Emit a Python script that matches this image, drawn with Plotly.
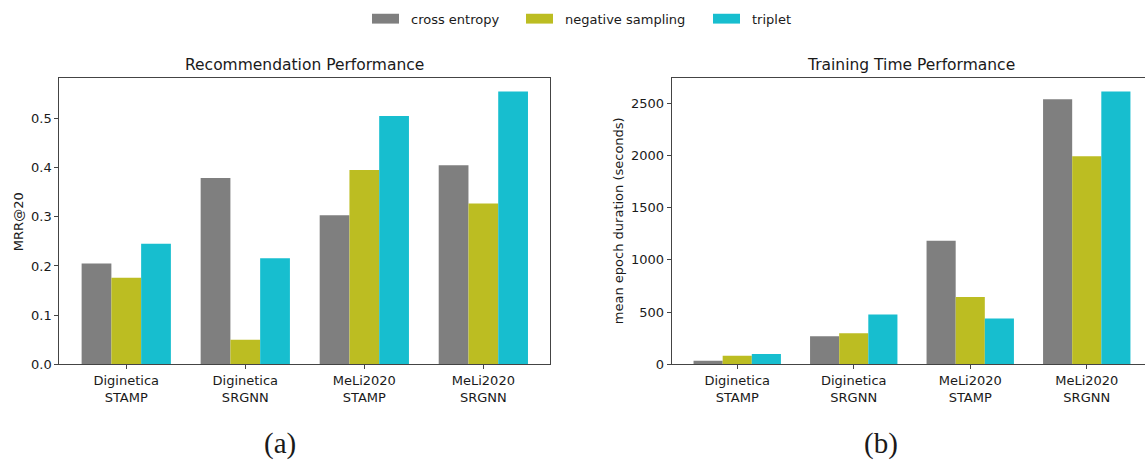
import plotly.graph_objects as go

W, H = 1145, 467

# ---- data ----
categories = ["Diginetica<br>STAMP", "Diginetica<br>SRGNN", "MeLi2020<br>STAMP", "MeLi2020<br>SRGNN"]
series_names = ["cross entropy", "negative sampling", "triplet"]

mrr_cross_entropy = [0.205, 0.379, 0.303, 0.405]
mrr_negative_sampling = [0.176, 0.050, 0.395, 0.327]
mrr_triplet = [0.245, 0.216, 0.505, 0.555]

time_cross_entropy = [35, 270, 1183, 2538]
time_negative_sampling = [82, 298, 646, 1992]
time_triplet = [100, 477, 439, 2613]

colors = ["#7f7f7f", "#bcbd22", "#17becf"]
FONT = "DejaVu Sans"
TXT = "#1a1a1a"
SPINE = "#444444"


def px_x(x):
    return x / W


def px_y(y):
    return 1 - y / H


fig = go.Figure()

mrr = [mrr_cross_entropy, mrr_negative_sampling, mrr_triplet]
times = [time_cross_entropy, time_negative_sampling, time_triplet]

for name, vals, c in zip(series_names, mrr, colors):
    fig.add_trace(go.Bar(x=categories, y=vals, name=name, marker=dict(color=c, line=dict(width=0)),
                         xaxis="x", yaxis="y", showlegend=False))
for name, vals, c in zip(series_names, times, colors):
    fig.add_trace(go.Bar(x=categories, y=vals, name=name, marker=dict(color=c, line=dict(width=0)),
                         xaxis="x2", yaxis="y2", showlegend=False))

ydom = [px_y(370.7), px_y(79)]
axis_common = dict(showgrid=False, zeroline=False, showline=True, linecolor=SPINE, linewidth=1,
                   ticks="outside", ticklen=4, tickwidth=1, tickcolor=SPINE,
                   tickfont=dict(family=FONT, size=13, color=TXT))

fig.update_layout(
    width=W, height=H,
    margin=dict(l=0, r=0, t=0, b=0),
    paper_bgcolor="white", plot_bgcolor="white",
    barmode="group", bargap=0.25, bargroupgap=0,
    xaxis=dict(domain=[px_x(59.3), px_x(550.3)], range=[-0.5625, 3.5625], mirror=True,
               anchor="y", **axis_common),
    yaxis=dict(domain=ydom, range=[0, 0.583], dtick=0.1, tickformat=".1f", mirror=True,
               anchor="x", **axis_common),
    xaxis2=dict(domain=[px_x(671.7), 1], range=[-0.5625, 3.5], mirror=True,
                anchor="y2", **axis_common),
    yaxis2=dict(domain=ydom, range=[0, 2745], dtick=500, mirror=False,
                anchor="x2", **axis_common),
)

annotations = [
    dict(text="Recommendation Performance", x=px_x(304.8), y=px_y(66), font=dict(family=FONT, size=15.5, color=TXT)),
    dict(text="Training Time Performance", x=px_x(911), y=px_y(66), font=dict(family=FONT, size=15.5, color=TXT)),
    dict(text="MRR@20", x=px_x(18), y=px_y(226), textangle=-90, font=dict(family=FONT, size=13, color=TXT)),
    dict(text="mean epoch duration (seconds)", x=px_x(618), y=px_y(225), textangle=-90,
         font=dict(family=FONT, size=13, color=TXT)),
    dict(text="(a)", x=px_x(280), y=px_y(451), font=dict(family="Liberation Serif", size=29, color=TXT)),
    dict(text="(b)", x=px_x(881), y=px_y(451), font=dict(family="Liberation Serif", size=29, color=TXT)),
]
for a in annotations:
    a.update(xref="paper", yref="paper", showarrow=False, xanchor="center", yanchor="middle")

# legend row across the top
shapes = []
legend_x = [372, 526, 713]
for lx, name, c in zip(legend_x, series_names, colors):
    shapes.append(dict(type="rect", xref="paper", yref="paper", x0=px_x(lx), x1=px_x(lx + 27),
                       y0=px_y(24), y1=px_y(14), fillcolor=c, line=dict(width=0)))
    annotations.append(dict(text=name, xref="paper", yref="paper", x=px_x(lx + 37), y=px_y(19.5),
                            xanchor="left", yanchor="middle", showarrow=False,
                            font=dict(family=FONT, size=13, color=TXT)))

fig.update_layout(annotations=annotations, shapes=shapes)

fig.write_html("out.html")
